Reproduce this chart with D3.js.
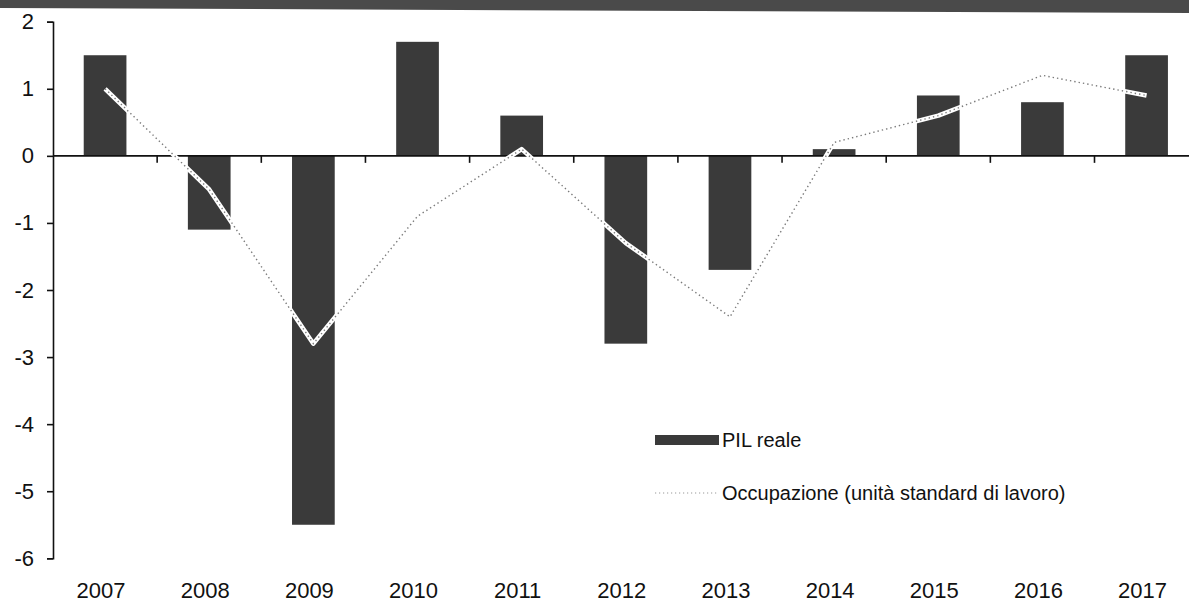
<!DOCTYPE html>
<meta charset="utf-8">
<style>
    body {
        margin: 0;
        background: #fff;
    }

    text {
        font-family: "Liberation Sans", Arial, sans-serif;
        fill: #111;
    }

    .bar {
        fill: #3a3a3a;
    }

    .axis path,
    .axis line {
        stroke: #111;
        stroke-width: 1.6;
    }
</style>
<svg width="1189" height="609"></svg>
<script src="https://d3js.org/d3.v7.min.js"></script>
<script>
    // data
    var years = ['2007', '2008', '2009', '2010', '2011', '2012', '2013', '2014', '2015', '2016', '2017'];
    var pil = [1.5, -1.1, -5.5, 1.7, 0.6, -2.8, -1.7, 0.1, 0.9, 0.8, 1.5];
    var occupazione = [1.0, -0.5, -2.8, -0.9, 0.1, -1.3, -2.4, 0.2, 0.6, 1.2, 0.9];
    var yTicks = [2, 1, 0, -1, -2, -3, -4, -5, -6];
    var legendLabels = ['PIL reale', 'Occupazione (unità standard di lavoro)'];

    var svg = d3.select('svg');

    // plot box (window.top is taken, hence the names)
    var plotLeft = 53,
        step = 104.15,
        plotTop = 21.7,
        plotBottom = 558.3;

    var x = d3.scaleBand()
        .domain(years)
        .range([plotLeft, plotLeft + years.length * step])
        .paddingInner(0.59)
        .paddingOuter(0.295);

    var y = d3.scaleLinear()
        .domain([-6, 2])
        .range([plotBottom, plotTop]);

    // dark band at the top of the scan
    svg.append('path')
        .attr('d', 'M0,0H1189V13L0,8Z')
        .attr('fill', '#4a4a4a');

    // bars
    svg.selectAll('.bar')
        .data(years)
        .enter().append('rect')
        .attr('class', 'bar')
        .attr('x', d => x(d))
        .attr('width', x.bandwidth())
        .attr('y', (d, i) => y(Math.max(0, pil[i])))
        .attr('height', (d, i) => Math.abs(y(pil[i]) - y(0)));

    // zero axis with ticks between categories
    var zero = svg.append('g').attr('class', 'axis');
    zero.append('line')
        .attr('x1', plotLeft).attr('x2', 1189)
        .attr('y1', y(0)).attr('y2', y(0));
    zero.selectAll('.sep')
        .data(years.slice(1))
        .enter().append('line')
        .attr('x1', d => x(d) - (x.step() - x.bandwidth()) / 2)
        .attr('x2', d => x(d) - (x.step() - x.bandwidth()) / 2)
        .attr('y1', y(0))
        .attr('y2', y(0) + 7);

    // y axis
    svg.append('g')
        .attr('class', 'axis')
        .attr('transform', 'translate(' + plotLeft + ',0)')
        .call(d3.axisLeft(y).tickValues(yTicks).tickSize(6).tickPadding(13).tickFormat(d => String(d)))
        .call(g => g.selectAll('text').style('font-size', '22px').attr('fill', '#111'));

    // year labels under the plot
    svg.append('g')
        .attr('transform', 'translate(-4,' + (plotBottom + 24) + ')')
        .call(d3.axisBottom(x).tickSize(0).tickPadding(0))
        .call(g => g.select('.domain').remove())
        .call(g => g.selectAll('text').style('font-size', '22px').attr('fill', '#111'));

    // employment line: white band with grey dots
    var line = d3.line()
        .x((d, i) => x(years[i]) + x.bandwidth() / 2)
        .y(d => y(d));

    svg.append('path')
        .datum(occupazione)
        .attr('d', line)
        .attr('fill', 'none')
        .attr('stroke', '#fff')
        .attr('stroke-width', 4.5)
        .attr('stroke-linejoin', 'round');

    svg.append('path')
        .datum(occupazione)
        .attr('d', line)
        .attr('fill', 'none')
        .attr('stroke', '#7a7a7a')
        .attr('stroke-width', 1.4)
        .attr('stroke-dasharray', '1.4,3');

    // legend
    var legend = svg.append('g').attr('transform', 'translate(655,440)');
    legend.append('rect')
        .attr('class', 'bar')
        .attr('x', 0).attr('y', -5)
        .attr('width', 64).attr('height', 10);
    legend.append('line')
        .attr('x1', 0).attr('x2', 64)
        .attr('y1', 53).attr('y2', 53)
        .attr('stroke', '#999')
        .attr('stroke-width', 1.2)
        .attr('stroke-dasharray', '1.2,2.8');
    legend.selectAll('.lab')
        .data(legendLabels)
        .enter().append('text')
        .attr('x', 67)
        .attr('y', (d, i) => i * 53)
        .attr('dy', '0.35em')
        .style('font-size', '20px')
        .text(d => d);
</script>
